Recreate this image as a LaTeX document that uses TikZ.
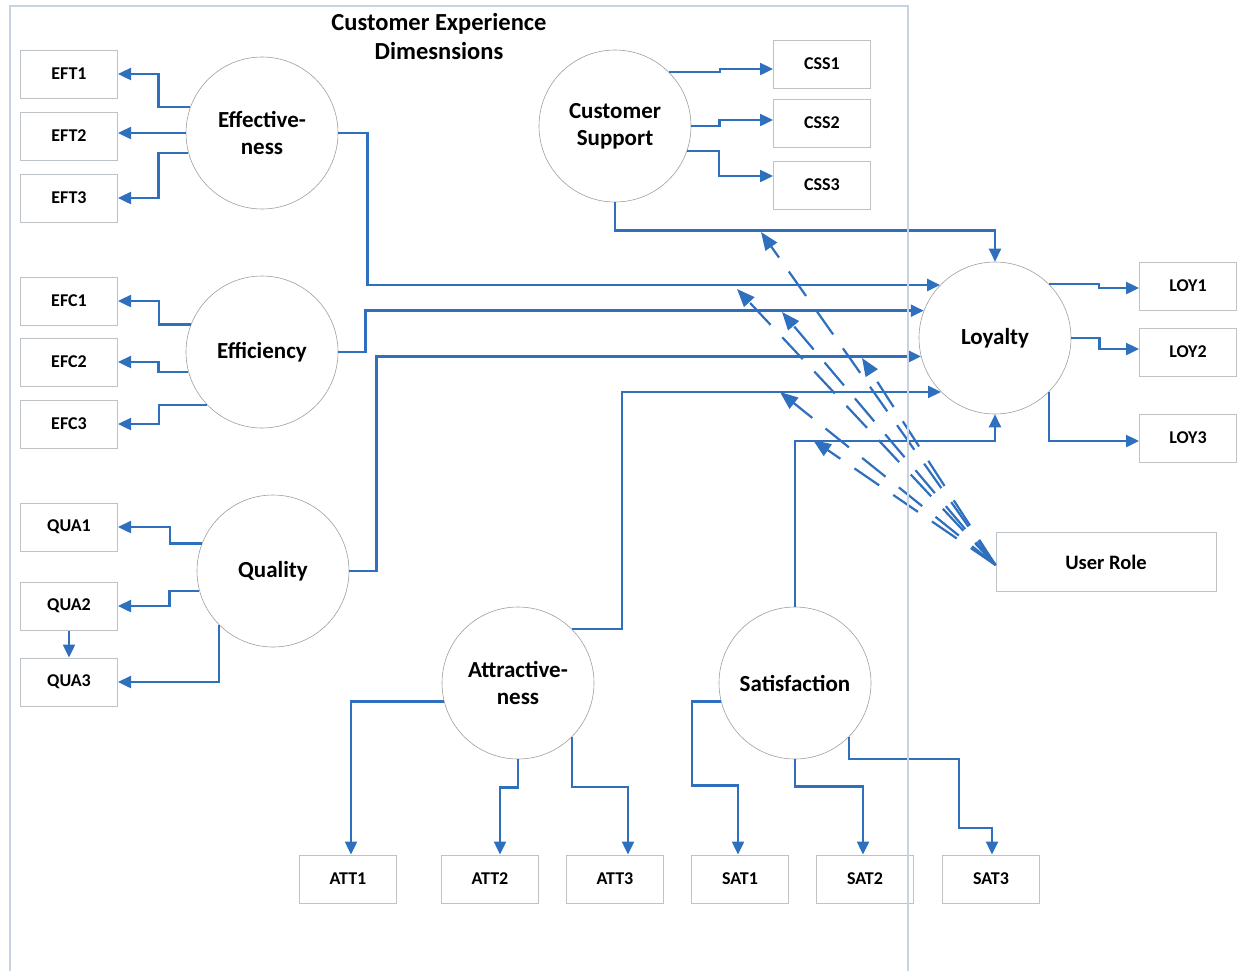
\documentclass[tikz,border=0pt]{standalone}
\usepackage{fontspec}
\setmainfont{Carlito}
\usetikzlibrary{arrows.meta}
\definecolor{linkblue}{RGB}{46,112,190}
\definecolor{boxgray}{RGB}{190,195,200}
\definecolor{framegray}{RGB}{200,210,225}
\begin{document}
\begin{tikzpicture}[x=1pt,y=-1pt,
  construct/.style={circle, draw=gray!75, line width=0.6pt, fill=white, minimum size=152pt,
    inner sep=0pt, align=center, font=\fontsize{23}{27}\selectfont\bfseries},
  item/.style={rectangle, draw=boxgray, line width=1pt, minimum width=97pt, minimum height=48pt,
    inner sep=0pt, font=\fontsize{18}{21}\selectfont\bfseries},
  link/.style={draw=linkblue, line width=2.4pt, -{Triangle[length=13pt,width=12pt]}},
  modlink/.style={draw=linkblue, line width=2.2pt, dash pattern=on 30pt off 17pt,
    -{Triangle[length=18pt,width=14pt]}},
]
\useasboundingbox (0,0) rectangle (1240,970);

% title
\node[font=\fontsize{24.5}{29}\selectfont\bfseries, align=center] (title) at (439,36)
  {Customer Experience\\Dimesnsions};

% latent constructs
\node[construct] (eff) at (262,133) {Effective-\\ness};
\node[construct] (efc) at (262,352) {Efficiency};
\node[construct] (qua) at (273,571) {Quality};
\node[construct] (cs)  at (615,126) {Customer\\Support};
\node[construct] (loy) at (995,338) {Loyalty};
\node[construct] (att) at (518,683) {Attractive-\\ness};
\node[construct] (sat) at (795,683) {Satisfaction};

% indicators
\node[item] (eft1) at (69,74)  {EFT1};
\node[item] (eft2) at (69,136) {EFT2};
\node[item] (eft3) at (69,198) {EFT3};
\node[item] (efc1) at (69,301) {EFC1};
\node[item] (efc2) at (69,362) {EFC2};
\node[item] (efc3) at (69,424) {EFC3};
\node[item] (qua1) at (69,527) {QUA1};
\node[item] (qua2) at (69,606) {QUA2};
\node[item] (qua3) at (69,682) {QUA3};
\node[item] (css1) at (822,64)  {CSS1};
\node[item] (css2) at (822,123) {CSS2};
\node[item] (css3) at (822,185) {CSS3};
\node[item] (loy1) at (1188,286) {LOY1};
\node[item] (loy2) at (1188,352) {LOY2};
\node[item] (loy3) at (1188,438) {LOY3};
\node[item] (att1) at (348,879) {ATT1};
\node[item] (att2) at (490,879) {ATT2};
\node[item] (att3) at (615,879) {ATT3};
\node[item] (sat1) at (740,879) {SAT1};
\node[item] (sat2) at (865,879) {SAT2};
\node[item] (sat3) at (991,879) {SAT3};
\node[item, minimum width=220pt, minimum height=59pt, font=\fontsize{20.5}{24}\selectfont\bfseries]
  (ur) at (1106,562) {User Role};

% measurement paths
\draw[link] (eff.160) -- ++(-32,0) |- (eft1);
\draw[link] (eff.west) -- (eff.west -| eft2.east);
\draw[link] (eff.195) -- ++(-30,0) |- (eft3);
\draw[link] (efc.159) -- ++(-32,0) |- (efc1);
\draw[link] (efc.195) -- ++(-30,0) |- (efc2);
\draw[link] (efc.224) -- ++(-48,0) |- (efc3);
\draw[link] (qua.159) -- ++(-32,0) |- (qua1);
\draw[link] (qua.195) -- ++(-30,0) |- (qua2);
\draw[link] (qua.225) |- (qua3);
\draw[link] (qua2) -- (qua3);
\draw[link] (cs.45) -- ++(51,0) |- ([yshift=-5pt]css1.west);
\draw[link] (cs.east) -- ++(28,0) |- ([yshift=3pt]css2.west);
\draw[link] (cs.-19) -- ++(32,0) |- ([yshift=9pt]css3.west);
\draw[link] (loy.45) -- ++(50,0) |- ([yshift=-2pt]loy1.west);
\draw[link] (loy.east) -- ++(28,0) |- ([yshift=3pt]loy2.west);
\draw[link] (loy.-45) |- ([yshift=-3pt]loy3.west);
\draw[link] (att.194) -| ([xshift=3pt]att1.north);
\draw[link] (att.south) -- ++(0,28) -| ([xshift=10pt]att2.north);
\draw[link] (att.-45) -- ++(0,50) -| ([xshift=13pt]att3.north);
\draw[link] (sat.194) -- ++(-29,0) -- ++(0,84) -| ([xshift=-2pt]sat1.north);
\draw[link] (sat.south) -- ++(0,27) -| ([xshift=-2pt]sat2.north);
\draw[link] (sat.-45) -- ++(0,22) -- ++(110,0) -- ++(0,69) -| ([xshift=1pt]sat3.north);

% structural paths into loyalty
\draw[link] (cs.south) -- ++(0,28) -| (loy.north);
\draw[link] (eff.east) -- ++(29,0) |- (loy.136);
\draw[link] (efc.east) -- ++(27,0) |- (loy.159);
\draw[link] (qua.east) -- ++(27,0) |- (loy.194);
\draw[link] (att.45) -- ++(50,0) |- (loy.225);
\draw[link] (sat.north) -- ++(0,-166) -| (loy.south);

% moderating effects of the user role
\coordinate (m1) at (761,232);
\coordinate (m2) at (737,289);
\coordinate (m3) at (782,312);
\coordinate (m4) at (862,358);
\coordinate (m5) at (780,392);
\coordinate (m6) at (813,440);
\coordinate (urin) at ([yshift=-3pt]ur.west);
\foreach \m in {m1,m2,m3,m4,m5,m6}
  \draw[modlink] (urin) -- (\m);

% dimension frame
\draw[framegray, line width=1.2pt] (10,975) -- (10,6) -- (908,6) -- (908,975);
\end{tikzpicture}
\end{document}
